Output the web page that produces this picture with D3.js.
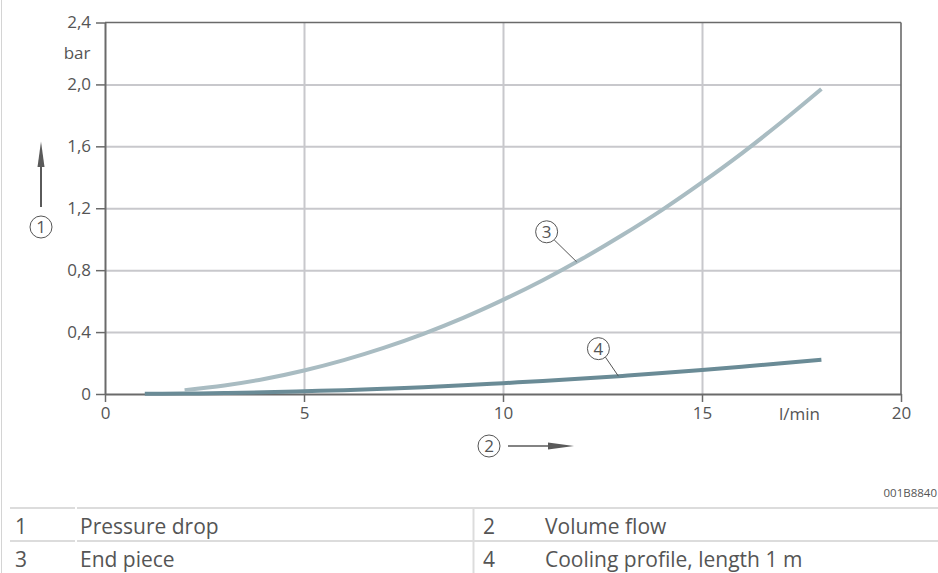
<!DOCTYPE html>
<html>
<head>
<meta charset="utf-8">
<script src="https://cdn.jsdelivr.net/npm/d3@7"></script>
<style>
  html, body { margin: 0; padding: 0; background: #fff; }
  svg { display: block; }
  text { font-family: "Open Sans", "Noto Sans", sans-serif; fill: #555; }
</style>
</head>
<body>
<svg id="chart" width="938" height="573"></svg>
<script>
// ---------- data ----------
const xTickValues = [0, 5, 10, 15, 20];
const xTickLabels = ["0", "5", "10", "15", "20"];
const yTickValues = [0, 0.4, 0.8, 1.2, 1.6, 2.0, 2.4];
const yTickLabels = ["0", "0,4", "0,8", "1,2", "1,6", "2,0", "2,4"];
const xUnit = "l/min";
const yUnit = "bar";

// series 3: End piece (x in l/min, y in bar)
const endPieceX = [2, 3, 4, 5, 6, 7, 8, 9, 10, 11, 12, 13, 14, 15, 16, 17, 18];
const endPieceY = [0.025, 0.055, 0.097, 0.152, 0.219, 0.298, 0.389, 0.492, 0.608, 0.735, 0.875, 1.027, 1.19, 1.367, 1.555, 1.757, 1.97];

// series 4: Cooling profile, length 1 m
const coolingX = [1, 2, 3, 4, 5, 6, 7, 8, 9, 10, 11, 12, 13, 14, 15, 16, 17, 18];
const coolingY = [0.001, 0.003, 0.006, 0.011, 0.018, 0.025, 0.034, 0.044, 0.056, 0.07, 0.084, 0.1, 0.117, 0.135, 0.155, 0.176, 0.198, 0.222];

const legendNumbers = ["1", "2", "3", "4"];
const legendTexts = ["Pressure drop", "Volume flow", "End piece", "Cooling profile, length 1 m"];
const drawingCode = "001B8840";

// ---------- layout ----------
const svg = d3.select("#chart");
const W = 938, H = 573;
const x = d3.scaleLinear().domain([0, 20]).range([105, 901]);
const y = d3.scaleLinear().domain([0, 2.4]).range([394, 22.5]);

const axisColor = "#6a6a6a";
const gridColor = "#c8c8cc";
const textColor = "#555";

// page left border
svg.append("line").attr("x1", 1.5).attr("x2", 1.5).attr("y1", 0).attr("y2", H)
  .attr("stroke", "#d4d4d4").attr("stroke-width", 1);

// gridlines
const gx = svg.append("g").attr("transform", `translate(0,${y(0)})`)
  .call(d3.axisBottom(x).tickValues(xTickValues.filter(v => v > 0 && v < 20))
    .tickSize(-(y(0) - y(2.4))).tickFormat(""));
gx.select(".domain").remove();
gx.selectAll("line").attr("stroke", gridColor).attr("stroke-width", 2);

const gy = svg.append("g").attr("transform", `translate(${x(0)},0)`)
  .call(d3.axisLeft(y).tickValues(yTickValues.filter(v => v > 0 && v < 2.4))
    .tickSize(-(x(20) - x(0))).tickFormat(""));
gy.select(".domain").remove();
gy.selectAll("line").attr("stroke", gridColor).attr("stroke-width", 2);

// frame top / right
svg.append("line").attr("x1", x(0)).attr("x2", x(20)).attr("y1", y(2.4)).attr("y2", y(2.4))
  .attr("stroke", axisColor).attr("stroke-width", 1.6);
svg.append("line").attr("x1", x(20)).attr("x2", x(20)).attr("y1", y(2.4)).attr("y2", y(0))
  .attr("stroke", axisColor).attr("stroke-width", 1.6);

// axes
const ax = svg.append("g").attr("transform", `translate(0,${y(0)})`)
  .call(d3.axisBottom(x).tickValues(xTickValues).tickSize(8).tickSizeOuter(0).tickPadding(5)
    .tickFormat((d, i) => xTickLabels[i]));
const ay = svg.append("g").attr("transform", `translate(${x(0)},0)`)
  .call(d3.axisLeft(y).tickValues(yTickValues).tickSize(9).tickSizeOuter(0).tickPadding(5)
    .tickFormat((d, i) => yTickLabels[i]));
[ax, ay].forEach(g => {
  g.select(".domain").attr("stroke", axisColor).attr("stroke-width", 2);
  g.selectAll(".tick line").attr("stroke", axisColor).attr("stroke-width", 1.5);
  g.selectAll("text").attr("font-family", '"Open Sans", sans-serif').attr("font-size", 17)
    .attr("fill", textColor);
});

// unit labels
svg.append("text").attr("x", x(17.45)).attr("y", y(0) + 26).attr("text-anchor", "middle")
  .attr("font-size", 17).text(xUnit);
svg.append("text").attr("x", 90.5).attr("y", y(2.2)).attr("dy", "0.32em").attr("text-anchor", "end")
  .attr("font-size", 17).text(yUnit);

// curves
const line = d3.line().x(d => x(d[0])).y(d => y(d[1])).curve(d3.curveMonotoneX);
svg.append("path").datum(coolingX.map((v, i) => [v, coolingY[i]]))
  .attr("d", line).attr("fill", "none").attr("stroke", "#6a8b96").attr("stroke-width", 4);
svg.append("path").datum(endPieceX.map((v, i) => [v, endPieceY[i]]))
  .attr("d", line).attr("fill", "none").attr("stroke", "#a9bcc2").attr("stroke-width", 4);

// circled callouts
function circled(cx, cy, label) {
  svg.append("circle").attr("cx", cx).attr("cy", cy).attr("r", 11)
    .attr("fill", "#fff").attr("stroke", textColor).attr("stroke-width", 1);
  svg.append("text").attr("x", cx).attr("y", cy).attr("dy", "0.36em").attr("text-anchor", "middle")
    .attr("font-size", 17).text(label);
}
function interp(xs, ys, v) { return d3.scaleLinear().domain(xs).range(ys)(v); }

// callout 3 on end piece curve
{
  const xv = 11.85, px = x(xv), py = y(interp(endPieceX, endPieceY, xv));
  const cx = px - 30, cy = py - 30;
  svg.append("line").attr("x1", cx + 7.5).attr("y1", cy + 8).attr("x2", px).attr("y2", py)
    .attr("stroke", textColor).attr("stroke-width", 1);
  circled(cx, cy, "3");
}
// callout 4 on cooling profile curve
{
  const xv = 12.9, px = x(xv), py = y(interp(coolingX, coolingY, xv));
  const cx = px - 20, cy = py - 27.5;
  svg.append("line").attr("x1", cx + 7).attr("y1", cy + 8.5).attr("x2", px).attr("y2", py)
    .attr("stroke", textColor).attr("stroke-width", 1);
  circled(cx, cy, "4");
}

// axis designators with arrows
const arrowColor = "#5a5a5a";
svg.append("line").attr("x1", 41).attr("x2", 41).attr("y1", 207).attr("y2", 160)
  .attr("stroke", arrowColor).attr("stroke-width", 2);
svg.append("path").attr("d", "M41,141.5 L44.5,167 L37.5,167 Z").attr("fill", arrowColor);
circled(41, 227, "1");

svg.append("line").attr("x1", 508).attr("x2", 555).attr("y1", 446).attr("y2", 446)
  .attr("stroke", arrowColor).attr("stroke-width", 1.5);
svg.append("path").attr("d", "M574,446 L548,442.5 L548,449.5 Z").attr("fill", arrowColor);
circled(489, 446, "2");

// drawing code
svg.append("text").attr("x", 937).attr("y", 496.5).attr("text-anchor", "end")
  .attr("font-family", '"Liberation Sans", Arial, sans-serif').attr("font-size", 11.5)
  .attr("fill", "#666").text(drawingCode);

// legend table
const rowTop = 508, rowH = 33;
const tableLineColor = "#dcdcdc";
[0, 1, 2].forEach(r => {
  const yy = rowTop + r * rowH;
  svg.append("line").attr("x1", 10).attr("x2", 75).attr("y1", yy).attr("y2", yy)
    .attr("stroke", tableLineColor).attr("stroke-width", 2);
  svg.append("line").attr("x1", 77).attr("x2", W).attr("y1", yy).attr("y2", yy)
    .attr("stroke", tableLineColor).attr("stroke-width", 2);
});
svg.append("line").attr("x1", 473.5).attr("x2", 473.5).attr("y1", rowTop).attr("y2", H)
  .attr("stroke", tableLineColor).attr("stroke-width", 2);

legendNumbers.forEach((n, i) => {
  const col = i % 2, row = Math.floor(i / 2);
  const baseY = rowTop + row * rowH + 26;
  const nx = col === 0 ? 15 : 483;
  const tx = col === 0 ? 80 : 545;
  svg.append("text").attr("x", nx).attr("y", baseY).attr("font-size", 21).text(n);
  svg.append("text").attr("x", tx).attr("y", baseY).attr("font-size", 21).text(legendTexts[i]);
});
</script>
</body>
</html>
